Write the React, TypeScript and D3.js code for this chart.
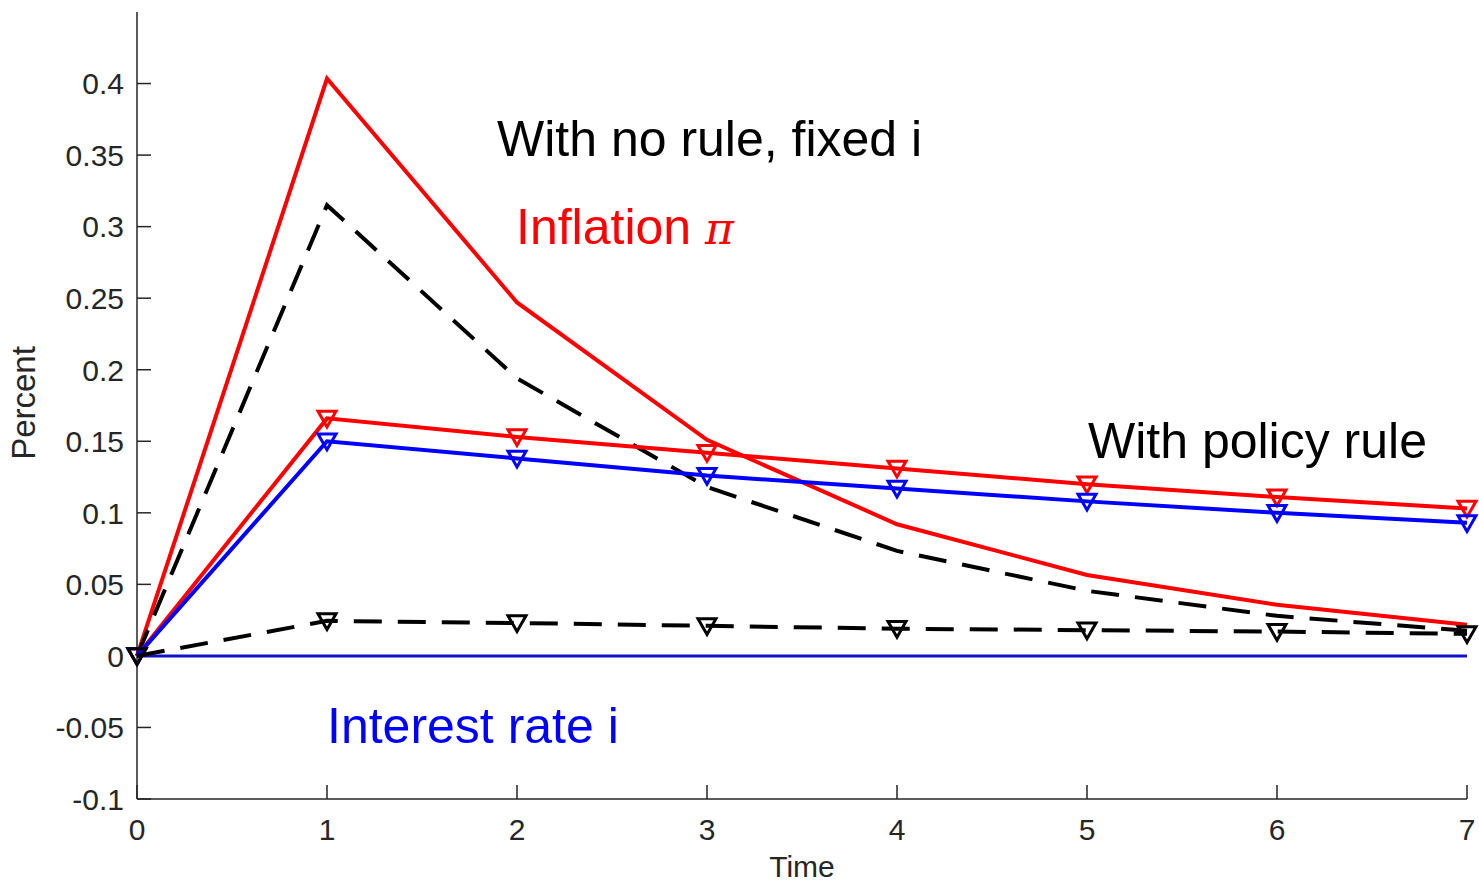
import React from "react";
import * as d3 from "d3";

const time = [0, 1, 2, 3, 4, 5, 6, 7];
const inflationFixed = [0, 0.4035, 0.247, 0.151, 0.092, 0.0566, 0.0357, 0.0217];
const outputFixed = [0, 0.315, 0.194, 0.118, 0.0734, 0.0455, 0.028, 0.0175];
const interestFixed = [0, 0, 0, 0, 0, 0, 0, 0];
const inflationRule = [0, 0.166, 0.153, 0.142, 0.131, 0.12, 0.111, 0.103];
const interestRule = [0, 0.15, 0.138, 0.126, 0.117, 0.108, 0.1, 0.093];
const outputRule = [0, 0.0245, 0.023, 0.021, 0.019, 0.018, 0.017, 0.0154];
const xTicks = [0, 1, 2, 3, 4, 5, 6, 7];
const yTicks = [-0.1, -0.05, 0, 0.05, 0.1, 0.15, 0.2, 0.25, 0.3, 0.35, 0.4];

const W = 1479;
const H = 884;
const L = 137, R = 1467, T = 12, B = 799;
const FONT = "'Liberation Sans', Arial, Helvetica, sans-serif";

export default function App() {
  const x = d3.scaleLinear().domain([0, 7]).range([L, R]);
  const y = d3.scaleLinear().domain([-0.1, 0.45]).range([B, T]);
  const line = (vals: number[]) =>
    d3.line<number>().x((_, i) => x(time[i])).y((v) => y(v))(vals) || "";
  const tri = (cx: number, cy: number, s = 9) =>
    `M${cx - s},${cy - s * 0.8} L${cx + s},${cy - s * 0.8} L${cx},${cy + s * 0.95} Z`;
  const markers = (vals: number[], color: string) =>
    vals.map((v, i) => (
      <path key={i} d={tri(x(time[i]), y(v))} fill="none" stroke={color} strokeWidth={3} />
    ));
  const fmt = (v: number) => (v === 0 ? "0" : String(+v.toFixed(2)));

  return (
    <svg width={W} height={H} style={{ position: "absolute", left: 0, top: 0, background: "#fff" }}>
      {/* axes */}
      <line x1={L} y1={T} x2={L} y2={B} stroke="#262626" strokeWidth={1.5} />
      <line x1={L} y1={B} x2={R} y2={B} stroke="#262626" strokeWidth={1.5} />
      {yTicks.map((t) => (
        <g key={"y" + t}>
          <line x1={L} x2={L + 14} y1={y(t)} y2={y(t)} stroke="#262626" strokeWidth={1.5} />
          <text x={L - 13} y={y(t)} dy="0.36em" textAnchor="end" fontFamily={FONT} fontSize={30} fill="#262626">
            {fmt(t)}
          </text>
        </g>
      ))}
      {xTicks.map((t) => (
        <g key={"x" + t}>
          <line x1={x(t)} x2={x(t)} y1={B} y2={B - 14} stroke="#262626" strokeWidth={1.5} />
          <text x={x(t)} y={840} textAnchor="middle" fontFamily={FONT} fontSize={30} fill="#262626">
            {t}
          </text>
        </g>
      ))}
      <text x={802} y={877} textAnchor="middle" fontFamily={FONT} fontSize={30} fill="#262626">Time</text>
      <text transform={`translate(35,403) rotate(-90)`} textAnchor="middle" fontFamily={FONT} fontSize={33} fill="#262626">Percent</text>

      {/* fixed i lines */}
      <path d={line(interestFixed)} fill="none" stroke="#1010d0" strokeWidth={3} />
      <path d={line(inflationFixed)} fill="none" stroke="#ff0000" strokeWidth={4} />
      <path d={line(outputFixed)} fill="none" stroke="#000" strokeWidth={4} strokeDasharray="28 16" />

      {/* policy rule lines */}
      <path d={line(inflationRule)} fill="none" stroke="#ff0000" strokeWidth={4} />
      {markers(inflationRule, "#ff0000")}
      <path d={line(interestRule)} fill="none" stroke="#0000ff" strokeWidth={4} />
      {markers(interestRule, "#0000ff")}
      <path d={line(outputRule)} fill="none" stroke="#000" strokeWidth={4} strokeDasharray="28 16" />
      {markers(outputRule, "#000")}

      {/* annotations */}
      <text x={497} y={156} fontFamily={FONT} fontSize={50} fill="#000">With no rule, fixed i</text>
      <text x={516} y={244} fontFamily={FONT} fontSize={50} fill="#ff0000">
        Inflation <tspan fontFamily="'DejaVu Serif', 'Liberation Serif', serif" fontStyle="italic" fontSize={44}>π</tspan>
      </text>
      <text x={1088} y={458} fontFamily={FONT} fontSize={50} fill="#000">With policy rule</text>
      <text x={327} y={743} fontFamily={FONT} fontSize={50} fill="#0000ff">Interest rate i</text>
    </svg>
  );
}
